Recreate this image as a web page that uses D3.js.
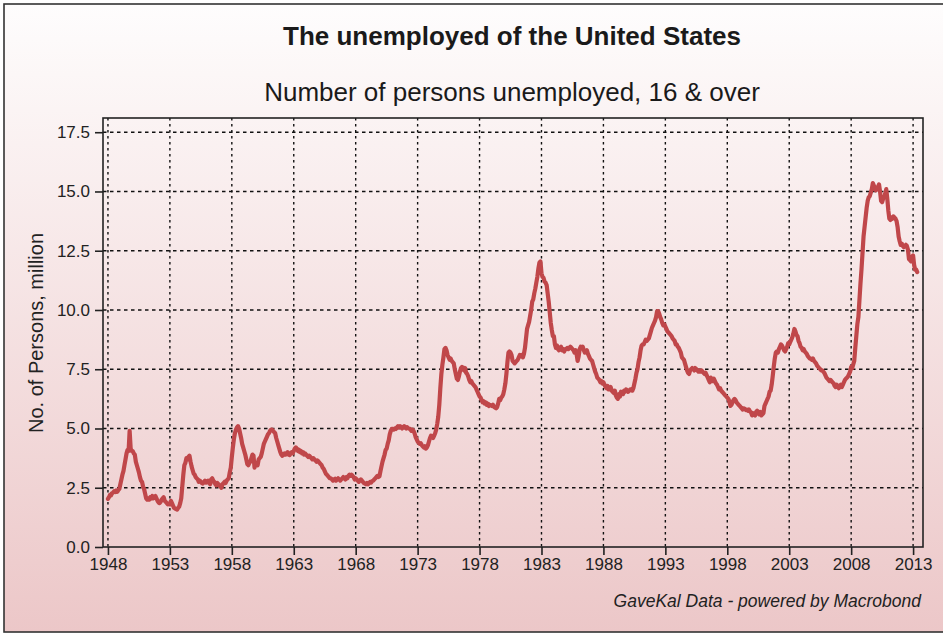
<!DOCTYPE html>
<html>
<head>
<meta charset="utf-8">
<script src="https://cdn.jsdelivr.net/npm/d3@7"></script>
<style>
  body { margin: 0; background: #fff; }
  svg { display: block; }
</style>
</head>
<body>
<svg id="chart"></svg>
<script>
// monthly values, millions of persons, starting Jan 1948
const startYear = 1948;
const unemployed = [
  // 1948
  2.03, 2.10, 2.20, 2.18, 2.27, 2.30, 2.35, 2.32, 2.38, 2.33, 2.40, 2.45,
  // 1949
  2.65, 2.85, 3.05, 3.20, 3.45, 3.70, 3.95, 4.10, 4.05, 4.90, 4.15, 4.05,
  // 1950
  4.05, 3.95, 3.90, 3.60, 3.45, 3.30, 3.15, 2.95, 2.80, 2.75, 2.55, 2.45,
  // 1951
  2.25, 2.05, 2.00, 2.05, 2.00, 2.10, 2.05, 2.15, 2.05, 2.10, 2.15, 2.05,
  // 1952
  1.95, 1.88, 1.85, 1.90, 2.00, 2.05, 2.10, 1.95, 1.90, 1.85, 1.80, 1.82,
  // 1953
  1.80, 1.95, 1.85, 1.75, 1.65, 1.62, 1.60, 1.58, 1.65, 1.70, 1.85, 2.05,
  // 1954
  2.55, 3.05, 3.45, 3.55, 3.75, 3.70, 3.80, 3.85, 3.60, 3.40, 3.25, 3.10,
  // 1955
  3.05, 2.95, 2.90, 2.85, 2.75, 2.80, 2.75, 2.70, 2.68, 2.75, 2.80, 2.72,
  // 1956
  2.75, 2.80, 2.70, 2.65, 2.85, 2.90, 2.80, 2.75, 2.65, 2.60, 2.70, 2.65,
  // 1957
  2.60, 2.55, 2.50, 2.65, 2.70, 2.75, 2.70, 2.80, 2.85, 2.90, 3.15, 3.35,
  // 1958
  3.80, 4.20, 4.55, 4.80, 4.95, 5.05, 5.10, 5.00, 4.80, 4.60, 4.35, 4.20,
  // 1959
  4.05, 3.90, 3.70, 3.50, 3.45, 3.55, 3.60, 3.75, 3.90, 3.85, 3.35, 3.55,
  // 1960
  3.55, 3.45, 3.70, 3.75, 3.80, 3.95, 4.15, 4.35, 4.45, 4.55, 4.65, 4.75,
  // 1961
  4.80, 4.90, 4.95, 4.95, 4.90, 4.85, 4.80, 4.60, 4.45, 4.30, 4.15, 4.00,
  // 1962
  3.90, 3.85, 3.90, 3.95, 3.90, 3.95, 4.00, 3.90, 3.88, 3.95, 4.00, 3.95,
  // 1963
  4.05, 4.15, 4.20, 4.15, 4.05, 4.10, 4.00, 4.05, 3.95, 4.00, 3.90, 3.95,
  // 1964
  3.90, 3.85, 3.80, 3.85, 3.80, 3.75, 3.70, 3.75, 3.70, 3.65, 3.60, 3.65,
  // 1965
  3.60, 3.55, 3.50, 3.45, 3.35, 3.30, 3.20, 3.10, 3.05, 3.00, 2.95, 2.90,
  // 1966
  2.90, 2.85, 2.80, 2.85, 2.88, 2.80, 2.85, 2.90, 2.85, 2.80, 2.85, 2.90,
  // 1967
  2.95, 2.90, 2.85, 2.95, 2.90, 3.00, 3.05, 3.00, 3.05, 3.00, 2.95, 2.85,
  // 1968
  2.90, 2.85, 2.80, 2.75, 2.80, 2.85, 2.80, 2.75, 2.70, 2.68, 2.65, 2.70,
  // 1969
  2.65, 2.70, 2.75, 2.72, 2.78, 2.80, 2.85, 2.90, 2.95, 3.00, 2.95, 2.98,
  // 1970
  3.20, 3.40, 3.60, 3.75, 3.90, 4.10, 4.15, 4.35, 4.50, 4.75, 4.90, 4.98,
  // 1971
  4.98, 4.95, 5.00, 4.98, 5.05, 5.10, 5.05, 5.10, 5.05, 5.00, 5.05, 5.10,
  // 1972
  5.05, 5.00, 5.05, 5.00, 5.00, 4.95, 4.90, 4.95, 4.90, 4.80, 4.65, 4.55,
  // 1973
  4.45, 4.40, 4.35, 4.38, 4.30, 4.25, 4.20, 4.25, 4.15, 4.20, 4.30, 4.45,
  // 1974
  4.60, 4.70, 4.65, 4.60, 4.70, 4.80, 4.95, 5.20, 5.50, 6.00, 6.70, 7.30,
  // 1975
  7.70, 8.00, 8.35, 8.40, 8.30, 8.10, 8.00, 7.90, 7.95, 7.85, 7.80, 7.75,
  // 1976
  7.50, 7.30, 7.10, 7.05, 7.20, 7.40, 7.55, 7.60, 7.50, 7.45, 7.55, 7.35,
  // 1977
  7.30, 7.20, 7.05, 6.95, 7.00, 6.90, 6.85, 6.80, 6.75, 6.65, 6.55, 6.45,
  // 1978
  6.35, 6.30, 6.20, 6.10, 6.15, 6.05, 6.10, 6.00, 6.05, 5.95, 6.00, 5.98,
  // 1979
  5.95, 6.00, 5.92, 5.88, 5.85, 5.90, 6.05, 6.25, 6.20, 6.30, 6.35, 6.45,
  // 1980
  6.65, 6.90, 7.30, 7.80, 8.20, 8.25, 8.20, 8.10, 7.85, 7.80, 7.75, 7.80,
  // 1981
  7.85, 7.90, 8.00, 8.10, 8.05, 8.10, 8.00, 8.15, 8.40, 8.80, 9.20, 9.35,
  // 1982
  9.50, 9.75, 10.00, 10.35, 10.45, 10.70, 10.90, 11.15, 11.40, 11.75, 12.00, 12.05,
  // 1983
  11.55, 11.40, 11.35, 11.20, 11.15, 11.05, 10.70, 10.35, 9.90, 9.45, 9.15, 8.90,
  // 1984
  8.90, 8.55, 8.40, 8.50, 8.35, 8.30, 8.40, 8.45, 8.30, 8.35, 8.25, 8.35,
  // 1985
  8.35, 8.40, 8.35, 8.40, 8.45, 8.40, 8.35, 8.30, 8.20, 8.30, 8.15, 7.85,
  // 1986
  8.05, 8.35, 8.45, 8.40, 8.45, 8.30, 8.20, 8.25, 8.30, 8.15, 8.05, 7.95,
  // 1987
  7.90, 7.85, 7.70, 7.55, 7.40, 7.30, 7.15, 7.10, 7.05, 6.95, 7.00, 6.90,
  // 1988
  6.95, 6.85, 6.75, 6.70, 6.80, 6.65, 6.70, 6.75, 6.60, 6.55, 6.50, 6.60,
  // 1989
  6.40, 6.30, 6.25, 6.45, 6.35, 6.55, 6.50, 6.45, 6.60, 6.55, 6.65, 6.60,
  // 1990
  6.55, 6.60, 6.65, 6.65, 6.60, 6.70, 6.90, 7.10, 7.35, 7.50, 7.80, 8.00,
  // 1991
  8.30, 8.50, 8.55, 8.55, 8.65, 8.75, 8.70, 8.75, 8.80, 8.95, 9.10, 9.25,
  // 1992
  9.35, 9.45, 9.55, 9.70, 9.95, 9.95, 9.85, 9.70, 9.60, 9.45, 9.35, 9.40,
  // 1993
  9.30, 9.20, 9.10, 9.05, 9.00, 8.95, 8.90, 8.80, 8.75, 8.70, 8.55, 8.55,
  // 1994
  8.45, 8.40, 8.30, 8.20, 8.00, 7.95, 7.90, 7.75, 7.60, 7.45, 7.35, 7.30,
  // 1995
  7.45, 7.50, 7.55, 7.50, 7.45, 7.55, 7.50, 7.45, 7.40, 7.45, 7.40, 7.45,
  // 1996
  7.40, 7.35, 7.30, 7.35, 7.25, 7.15, 7.05, 6.95, 7.15, 7.05, 7.00, 7.10,
  // 1997
  7.00, 6.90, 6.85, 6.75, 6.65, 6.70, 6.60, 6.55, 6.50, 6.45, 6.40, 6.35,
  // 1998
  6.30, 6.25, 6.15, 5.95, 6.00, 6.10, 6.20, 6.25, 6.20, 6.10, 6.05, 6.00,
  // 1999
  5.95, 5.90, 5.85, 5.80, 5.85, 5.82, 5.78, 5.80, 5.75, 5.80, 5.72, 5.68,
  // 2000
  5.55, 5.65, 5.60, 5.55, 5.70, 5.75, 5.65, 5.60, 5.70, 5.55, 5.60, 5.65,
  // 2001
  5.95, 6.05, 6.15, 6.25, 6.35, 6.55, 6.60, 6.85, 7.20, 7.60, 7.95, 8.20,
  // 2002
  8.25, 8.20, 8.35, 8.45, 8.55, 8.50, 8.40, 8.30, 8.25, 8.35, 8.45, 8.60,
  // 2003
  8.55, 8.65, 8.75, 8.85, 9.00, 9.20, 9.10, 8.95, 8.90, 8.70, 8.60, 8.45,
  // 2004
  8.40, 8.30, 8.35, 8.25, 8.20, 8.15, 8.05, 8.00, 7.95, 7.95, 7.90, 7.95,
  // 2005
  7.85, 7.80, 7.75, 7.65, 7.60, 7.55, 7.50, 7.45, 7.45, 7.40, 7.35, 7.25,
  // 2006
  7.15, 7.10, 7.05, 7.00, 7.05, 7.00, 6.95, 6.90, 6.80, 6.75, 6.85, 6.75,
  // 2007
  6.70, 6.80, 6.85, 6.75, 6.85, 6.95, 7.05, 7.10, 7.15, 7.20, 7.30, 7.40,
  // 2008
  7.60, 7.55, 7.70, 7.85, 8.40, 8.90, 9.40, 9.70, 10.40, 11.10, 11.70, 12.40,
  // 2009
  13.10, 13.50, 13.90, 14.30, 14.60, 14.75, 14.80, 14.95, 15.10, 15.35, 15.25, 15.10,
  // 2010
  15.05, 15.15, 15.20, 15.30, 15.00, 14.60, 14.55, 14.70, 14.75, 14.90, 15.10, 14.70,
  // 2011
  14.20, 13.85, 13.80, 13.90, 13.85, 13.95, 13.90, 13.85, 13.75, 13.50, 13.10, 12.90,
  // 2012
  12.75, 12.80, 12.70, 12.65, 12.70, 12.75, 12.70, 12.55, 12.15, 12.10, 12.05, 12.25,
  // 2013
  12.30, 11.90, 11.70, 11.70, 11.60
];
const xTicks = [1948, 1953, 1958, 1963, 1968, 1973, 1978, 1983, 1988, 1993, 1998, 2003, 2008, 2013];
const yTicks = [0, 2.5, 5, 7.5, 10, 12.5, 15, 17.5];

const title = "The unemployed of the United States";
const subtitle = "Number of persons unemployed, 16 & over";
const yLabel = "No. of Persons, million";
const source = "GaveKal Data - powered by Macrobond";

const W = 943, H = 633;
const margin = { top: 118, right: 20, bottom: 86, left: 103 };
const width = W - margin.left - margin.right,
      height = H - margin.top - margin.bottom;
const font = "'Liberation Sans', Arial, sans-serif";

const data = unemployed.map((v, i) => ({ t: startYear + i / 12, v }));

const svg = d3.select("#chart")
    .attr("width", W)
    .attr("height", H);

const defs = svg.append("defs");
const grad = defs.append("linearGradient")
    .attr("id", "bg")
    .attr("x1", 0).attr("y1", 0).attr("x2", 0).attr("y2", 1);
grad.append("stop").attr("offset", "0%").attr("stop-color", "#fefdfd");
grad.append("stop").attr("offset", "100%").attr("stop-color", "#ecc7c8");

svg.append("rect")
    .attr("x", 4).attr("y", 4)
    .attr("width", W + 10).attr("height", H - 5)
    .attr("fill", "url(#bg)")
    .attr("stroke", "#333")
    .attr("stroke-width", 1.6);

svg.append("text")
    .attr("x", 512).attr("y", 45)
    .attr("text-anchor", "middle")
    .style("font-family", font)
    .style("font-size", "26px")
    .style("font-weight", "bold")
    .style("fill", "#1a1a1a")
    .text(title);

svg.append("text")
    .attr("x", 512).attr("y", 101)
    .attr("text-anchor", "middle")
    .style("font-family", font)
    .style("font-size", "26px")
    .style("fill", "#1a1a1a")
    .text(subtitle);

const g = svg.append("g")
    .attr("transform", `translate(${margin.left},${margin.top})`);

const x = d3.scaleLinear()
    .domain([1947.6, 2013.8])
    .range([0, width]);

const y = d3.scaleLinear()
    .domain([0, 18.1])
    .range([height, 0]);

// grid
g.append("g").selectAll("line")
    .data(xTicks)
    .enter().append("line")
    .attr("x1", d => x(d)).attr("x2", d => x(d))
    .attr("y1", 0).attr("y2", height)
    .attr("stroke", "#111")
    .attr("stroke-width", 1.4)
    .attr("stroke-dasharray", "2.5,3.5");

g.append("g").selectAll("line")
    .data(yTicks.filter(d => d > 0))
    .enter().append("line")
    .attr("x1", 0).attr("x2", width)
    .attr("y1", d => y(d)).attr("y2", d => y(d))
    .attr("stroke", "#111")
    .attr("stroke-width", 1.4)
    .attr("stroke-dasharray", "3.5,3.5");

// line
g.append("path")
    .datum(data)
    .attr("fill", "none")
    .attr("stroke", "#c0474a")
    .attr("stroke-width", 4.2)
    .attr("stroke-linejoin", "round")
    .attr("stroke-linecap", "round")
    .attr("d", d3.line().x(d => x(d.t)).y(d => y(d.v)));

// frame of plot
g.append("rect")
    .attr("width", width).attr("height", height)
    .attr("fill", "none")
    .attr("stroke", "#222")
    .attr("stroke-width", 1.6);

const yAxis = g.append("g")
    .call(d3.axisLeft(y).tickValues(yTicks).tickFormat(d3.format(".1f")).tickSize(8).tickPadding(5));
const xAxis = g.append("g")
    .attr("transform", `translate(0,${height})`)
    .call(d3.axisBottom(x).tickValues(xTicks).tickFormat(d3.format("d")).tickSize(8).tickPadding(3));

[yAxis, xAxis].forEach(a => {
    a.select(".domain").remove();
    a.selectAll("line").attr("stroke", "#222").attr("stroke-width", 1.6);
    a.selectAll("text")
        .style("font-family", font)
        .style("font-size", "17px")
        .style("fill", "#222");
});

svg.append("text")
    .attr("transform", `translate(43,333) rotate(-90)`)
    .attr("text-anchor", "middle")
    .style("font-family", font)
    .style("font-size", "20px")
    .style("fill", "#222")
    .text(yLabel);

svg.append("text")
    .attr("x", 921).attr("y", 607)
    .attr("text-anchor", "end")
    .style("font-family", font)
    .style("font-size", "17.5px")
    .style("font-style", "italic")
    .style("fill", "#222")
    .text(source);
</script>
</body>
</html>
